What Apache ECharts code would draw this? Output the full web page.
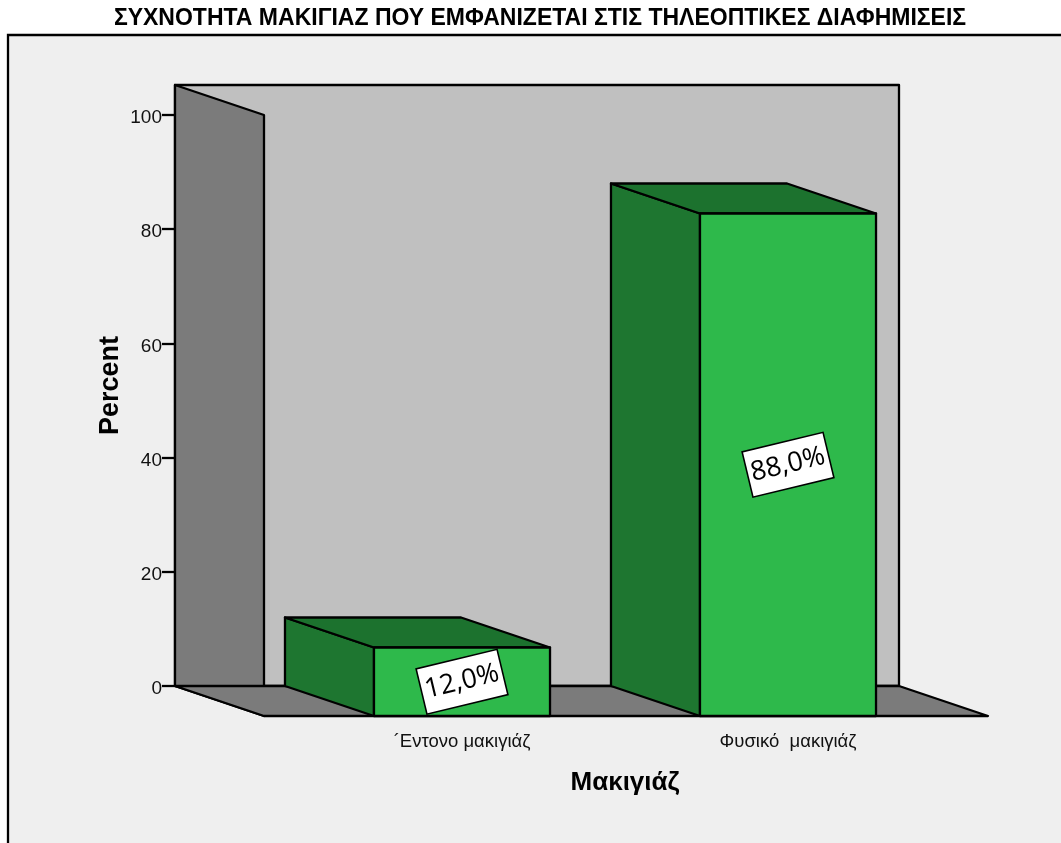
<!DOCTYPE html>
<html>
<head>
<meta charset="utf-8">
<style>html,body{margin:0;padding:0;background:#fff}#chart{width:1061px;height:843px}</style>
<script src="https://cdn.jsdelivr.net/npm/echarts@6/dist/echarts.min.js"></script>
</head>
<body>
<div id="chart"></div>
<script>
// Frequency of make-up styles, in percent
const categories = ['´Εντονο μακιγιάζ', 'Φυσικό  μακιγιάζ'];
const percents = [12, 88];
const yTicks = [0, 20, 40, 60, 80, 100];
const yMax = 105.25;

// Oblique projection of the 3D box: screen offset from back plane to front plane
const DEPTH_X = 89;
const DEPTH_Y = 30;
const BAR_RATIO = 0.54;

const line = { stroke: '#000', lineWidth: 2.3, lineJoin: 'round' };
const poly = (points, fill) => ({
  type: 'polygon',
  shape: { points },
  style: Object.assign({ fill }, line)
});

function renderRoom(params, api) {
  const a = api.coord([0, 0]);
  const b = api.coord([1, yMax]);
  const d = (p) => [p[0] + DEPTH_X, p[1] + DEPTH_Y];
  const tl = [a[0], b[1]], br = [b[0], a[1]];
  return {
    type: 'group',
    children: [
      poly([tl, [b[0], b[1]], br, a], '#c0c0c0'),
      poly([tl, d(tl), d(a), a], '#7b7b7b'),
      poly([a, br, d(br), d(a)], '#7b7b7b')
    ]
  };
}

function renderBar(params, api) {
  const base = api.coord([api.value(0), 0]);
  const top = api.coord([api.value(0), api.value(1)]);
  const w = api.size([1, 0])[0] * BAR_RATIO;
  const l = base[0] - w / 2, r = base[0] + w / 2;
  const back = (x, y) => [x - DEPTH_X, y - DEPTH_Y];
  const label = api.value(1).toFixed(1).replace('.', ',') + '%';
  return {
    type: 'group',
    children: [
      poly([[l, base[1]], back(l, base[1]), back(l, top[1]), [l, top[1]]], '#1e7630'),
      poly([[l, top[1]], back(l, top[1]), back(r, top[1]), [r, top[1]]], '#1c722e'),
      poly([[l, base[1]], [l, top[1]], [r, top[1]], [r, base[1]]], '#2eb94b'),
      {
        type: 'text',
        x: base[0],
        y: (base[1] + top[1]) / 2,
        rotation: 13.5 * Math.PI / 180,
        style: {
          text: label,
          font: '27px "Open Sans"',
          fill: '#000',
          align: 'center',
          verticalAlign: 'middle',
          backgroundColor: '#fff',
          borderColor: '#000',
          borderWidth: 1.6,
          padding: [9, 3, 9, 3]
        }
      }
    ]
  };
}

const chart = echarts.init(document.getElementById('chart'), null, { renderer: 'canvas' });
chart.setOption({
  animation: false,
  backgroundColor: '#fff',
  textStyle: { fontFamily: '"Liberation Sans"' },
  title: {
    text: 'ΣΥΧΝΟΤΗΤΑ ΜΑΚΙΓΙΑΖ ΠΟΥ ΕΜΦΑΝΙΖΕΤΑΙ ΣΤΙΣ ΤΗΛΕΟΠΤΙΚΕΣ ΔΙΑΦΗΜΙΣΕΙΣ',
    left: 535,
    top: 2,
    textAlign: 'center',
    textStyle: { fontFamily: '"Liberation Sans"', fontSize: 23, fontWeight: 'bold', color: '#000' }
  },
  graphic: [{
    type: 'rect',
    z: -10,
    silent: true,
    shape: { x: 8, y: 35, width: 1100, height: 900 },
    style: { fill: '#efefef', stroke: '#000', lineWidth: 2.3 }
  }],
  grid: [
    { left: 299, width: 652, top: 115, height: 601 },
    { left: 175, width: 724, top: 85, height: 601 }
  ],
  xAxis: [
    {
      type: 'category',
      gridIndex: 0,
      data: categories,
      axisLine: { show: false },
      axisTick: { alignWithLabel: true, length: 12, lineStyle: { color: '#000', width: 2.3 } },
      axisLabel: { fontSize: 18.5, color: '#111', margin: 16, fontFamily: '"Liberation Sans"' },
      name: 'Μακιγιάζ',
      nameLocation: 'middle',
      nameGap: 54,
      nameMoveOverlap: false,
      nameTextStyle: { fontSize: 26, fontWeight: 'bold', color: '#000', fontFamily: '"Liberation Sans"' }
    },
    { type: 'value', gridIndex: 1, min: 0, max: 1, show: false }
  ],
  yAxis: [
    { type: 'value', gridIndex: 0, min: 0, max: yMax, show: false },
    {
      type: 'value',
      gridIndex: 1,
      min: 0,
      max: yMax,
      splitLine: { show: false },
      axisLine: { show: false },
      axisTick: { show: true, length: 13, customValues: yTicks, lineStyle: { color: '#000', width: 2.3 } },
      axisLabel: { fontSize: 19, color: '#111', margin: 13, verticalAlign: 'top', lineHeight: 6, customValues: yTicks, fontFamily: '"Liberation Sans"' },
      name: 'Percent',
      nameLocation: 'middle',
      nameGap: 51,
      nameMoveOverlap: false,
      nameTextStyle: { fontSize: 27, fontWeight: 'bold', color: '#000', fontFamily: '"Liberation Sans"' }
    }
  ],
  series: [
    {
      type: 'custom',
      xAxisIndex: 1,
      yAxisIndex: 1,
      z: 1,
      silent: true,
      renderItem: renderRoom,
      data: [[0, 0]]
    },
    {
      type: 'custom',
      xAxisIndex: 0,
      yAxisIndex: 0,
      z: 2,
      silent: true,
      renderItem: renderBar,
      encode: { x: 0, y: 1 },
      data: percents.map((v, i) => [i, v])
    }
  ]
});
</script>
</body>
</html>
